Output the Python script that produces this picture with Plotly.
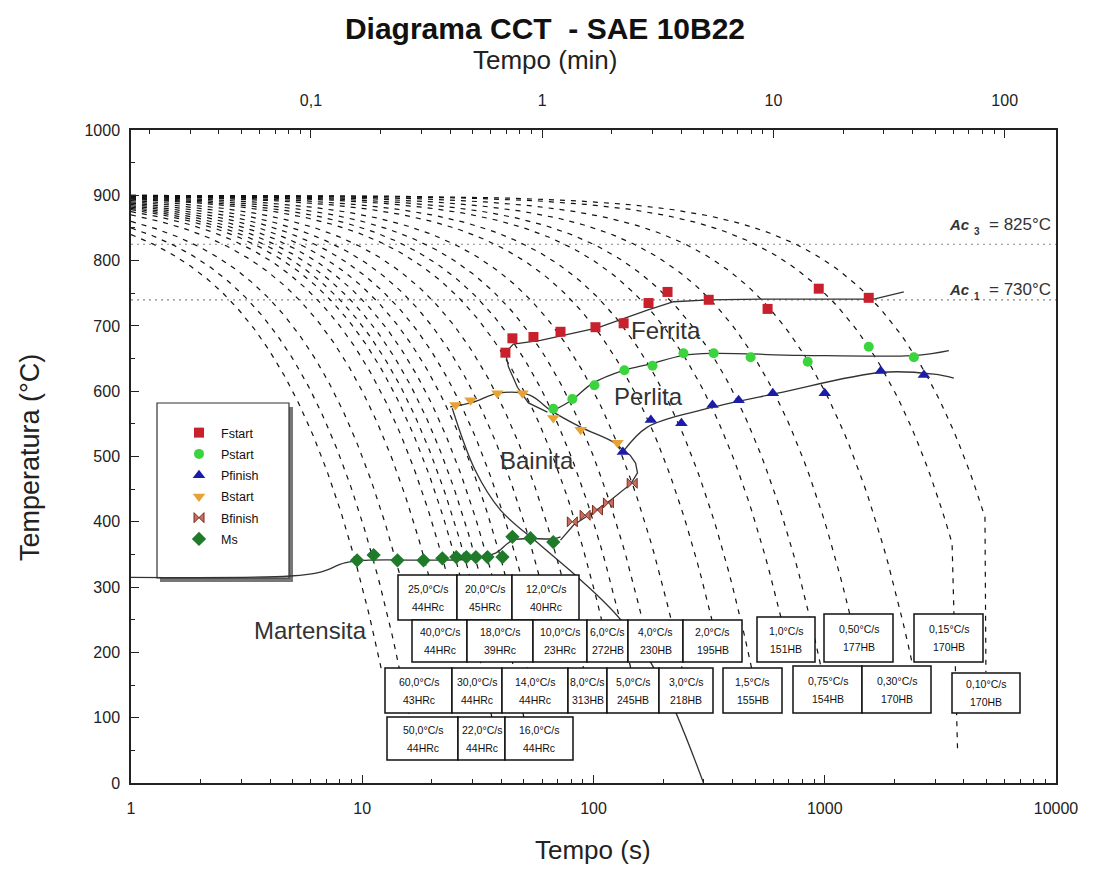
import numpy as np
import plotly.graph_objects as go

# ---------------- data ----------------
# cooling curves: constant cooling rates (°C/s) printed in the boxes, from 900 °C
cooling_rates = [60, 50, 40, 30, 25, 22, 20, 18, 16, 14, 12, 10, 8, 6, 5, 4, 3, 2, 1.5, 1.0, 0.75, 0.5, 0.3, 0.15, 0.1]
curve_end_temp = [176, 101, 250, 176, 318, 101, 318, 250, 101, 176, 318, 250, 176, 250, 176, 250, 176, 250, 176, 254, 179, 259, 179, 367, 407]
start_temp = 900
tail_rates = [0.15, 0.1]
tail_end_time = [3756, 4977]
tail_end_temp = [45, 170]

# critical temperatures (lines as drawn) and their labels
ac3_temp = 825
ac1_temp = 740
ac_labels = [("3", "= 825°C"), ("1", "= 730°C")]

# transformation lines (time s, temperature °C)
ferrite_line_t = [63.2, 52.3, 46.9, 42.9, 41.6, 45, 59, 104, 171, 222, 315, 528, 1630, 2198]
ferrite_line_T = [568, 582, 606, 637, 659, 672, 678, 697, 724, 737, 740, 741, 741, 752]
pearlite_start_line_t = [65, 81, 99, 135, 177, 245, 331, 787, 2500, 3441]
pearlite_start_line_T = [568, 587, 612, 632, 642, 655, 658, 655, 655, 662]
pearlite_finish_line_t = [134, 171, 291, 626, 1783, 2966, 3616]
pearlite_finish_line_T = [507, 545, 571, 597, 629, 626, 620]
bainite_start_line_t = [24, 30, 38.8, 53, 65, 88, 122, 134]
bainite_start_line_T = [576, 583, 597, 594, 571, 545, 522, 510]
bainite_finish_line_t = [72, 82, 100, 118.5, 145, 155, 152, 144, 134]
bainite_finish_line_T = [372, 395, 415, 433, 458, 475, 490, 502, 510]
ms_line_t = [1, 4.88, 6.6, 8.4, 10.3, 29.4, 37.7, 45, 67, 72]
ms_line_T = [315, 317, 323, 337, 341, 343, 352, 372, 374, 377]
mart_boundary_t = [24.5, 30.8, 39.6, 59, 88, 131, 195, 299]
mart_boundary_T = [574, 479, 418, 364, 311, 250, 158, 0]

# measured points
fstart_t = [41.6, 44.6, 55, 72, 102, 135, 173, 209, 315, 566, 942, 1550]
fstart_T = [659, 681, 683, 691, 698, 704, 735, 752, 740, 726, 757, 743]
pstart_t = [67, 81, 101, 136, 180, 245, 331, 478, 844, 1550, 2428]
pstart_T = [573, 588, 609, 632, 639, 658, 658, 652, 645, 668, 652]
pfinish_t = [134, 177, 240, 327, 424, 596, 1000, 1747, 2684]
pfinish_T = [507, 556, 551, 579, 586, 597, 597, 631, 625]
bstart_t = [25.3, 29.4, 38.4, 49.3, 67, 88, 127]
bstart_T = [579, 586, 597, 597, 559, 541, 521]
bfinish_t = [81, 92, 104, 116, 147]
bfinish_T = [400, 410, 418, 429, 459]
ms_t = [9.5, 11.2, 14.2, 18.4, 22.2, 25.5, 28.2, 31.0, 34.8, 40.4, 44.6, 53.4, 67]
ms_T = [341, 349, 341, 341, 344, 346, 346, 346, 346, 346, 377, 375, 369]

# label boxes
box_rate_text = ["25,0°C/s", "20,0°C/s", "12,0°C/s",
                 "40,0°C/s", "18,0°C/s", "10,0°C/s", "6,0°C/s", "4,0°C/s", "2,0°C/s", "1,0°C/s", "0,50°C/s", "0,15°C/s",
                 "60,0°C/s", "30,0°C/s", "14,0°C/s", "8,0°C/s", "5,0°C/s", "3,0°C/s", "1,5°C/s", "0,75°C/s", "0,30°C/s", "0,10°C/s",
                 "50,0°C/s", "22,0°C/s", "16,0°C/s"]
box_hardness = ["44HRc", "45HRc", "40HRc",
                "44HRc", "39HRc", "23HRc", "272HB", "230HB", "195HB", "151HB", "177HB", "170HB",
                "43HRc", "44HRc", "44HRc", "313HB", "245HB", "218HB", "155HB", "154HB", "170HB", "170HB",
                "44HRc", "44HRc", "44HRc"]

legend_names = ["Fstart", "Pstart", "Pfinish", "Bstart", "Bfinish", "Ms"]
region_names = ["Ferrita", "Perlita", "Bainita", "Martensita"]

x_ticks = [1, 10, 100, 1000, 10000]
x_tick_text = ["1", "10", "100", "1000", "10000"]
top_ticks = [0.1, 1, 10, 100]
top_tick_text = ["0,1", "1", "10", "100"]
y_ticks = list(range(0, 1001, 100))

# ---------------- layout geometry (screen pixels of the reference) ----------------
OFF = 8                       # page body margin of the html page
W, H = 1098 - OFF, 872 - OFF
PL, PR, PT, PB = 131, 1056, 130, 783
box_left = [398, 457, 512, 412, 467, 533, 587, 628, 683, 757, 824, 914, 385, 452, 502, 568, 607, 659, 723, 793, 862, 952, 387, 458, 505]
box_right = [457, 512, 579, 467, 533, 587, 628, 683, 742, 815, 893, 983, 452, 502, 568, 607, 659, 713, 782, 862, 931, 1020, 458, 505, 573]
box_top = [575] * 3 + [620] * 6 + [617, 614, 614] + [668] * 7 + [666, 666, 673] + [717] * 3
box_bottom = [620] * 3 + [662] * 9 + [713] * 10 + [760] * 3
region_pos = [(666, 330), (648, 396), (537, 460), (310, 630)]
ac_label_y = [224, 289]


def px(p):
    return (p - PL) / (PR - PL)


def py(p):
    return (PB - p) / (PB - PT)


fig = go.Figure()

# cooling curves: T = 900 - rate*t (straight lines in linear time, drawn on the log axis)
for rate, t_end_temp in zip(cooling_rates, curve_end_temp):
    t_stop = (start_temp - t_end_temp) / rate
    tt = np.geomspace(1.0, t_stop, 160)
    TT = start_temp - rate * tt
    xs, ys = list(tt), list(TT)
    if rate in tail_rates:
        i = tail_rates.index(rate)
        xs.append(tail_end_time[i])
        ys.append(tail_end_temp[i])
    fig.add_trace(go.Scatter(x=xs, y=ys, mode="lines", showlegend=False, hoverinfo="skip",
                             line=dict(color="#111111", width=1.2, dash="5px,6px")))

line_style = dict(color="#333333", width=1.3)
for lt, lT, shape in [(ferrite_line_t, ferrite_line_T, "linear"),
                      (pearlite_start_line_t, pearlite_start_line_T, "spline"),
                      (pearlite_finish_line_t, pearlite_finish_line_T, "spline"),
                      (bainite_start_line_t, bainite_start_line_T, "spline"),
                      (bainite_finish_line_t, bainite_finish_line_T, "linear"),
                      (ms_line_t, ms_line_T, "spline"),
                      (mart_boundary_t, mart_boundary_T, "spline")]:
    fig.add_trace(go.Scatter(x=lt, y=lT, mode="lines", line_shape=shape, showlegend=False,
                             hoverinfo="skip", line=line_style))

marker_styles = [
    dict(symbol="square", color="#c8202c", size=10),
    dict(symbol="circle", color="#3cd43c", size=10),
    dict(symbol="triangle-up", color="#1c1ca8", size=11),
    dict(symbol="triangle-down", color="#e8a234", size=11),
    dict(symbol="bowtie", color="#c87060", size=10, line=dict(color="#7a2a20", width=1)),
    dict(symbol="diamond", color="#1f7a2a", size=11),
]
marker_data = [(fstart_t, fstart_T), (pstart_t, pstart_T), (pfinish_t, pfinish_T),
               (bstart_t, bstart_T), (bfinish_t, bfinish_T), (ms_t, ms_T)]
for name, (mt, mT), mk in zip(legend_names, marker_data, marker_styles):
    fig.add_trace(go.Scatter(x=mt, y=mT, mode="markers", name=name,
                             legendgroup=name, marker=mk, hoverinfo="skip"))

# invisible trace to anchor the top (minutes) axis
fig.add_trace(go.Scatter(x=[1 / 60, 10000 / 60], y=[0, 0], xaxis="x2", mode="markers",
                         marker=dict(opacity=0), showlegend=False, hoverinfo="skip"))

shapes = []
for temp in (ac3_temp, ac1_temp):
    shapes.append(dict(type="line", xref="paper", x0=0, x1=1, yref="y", y0=temp, y1=temp,
                       line=dict(color="#888888", width=1.2, dash="2px,4px"), layer="below"))
# legend frame with shadow
shapes.append(dict(type="rect", xref="paper", yref="paper", x0=px(160), x1=px(293), y0=py(407), y1=py(582),
                   fillcolor="#777777", line=dict(width=0), layer="below"))
shapes.append(dict(type="rect", xref="paper", yref="paper", x0=px(157), x1=px(289), y0=py(403), y1=py(578),
                   fillcolor="white", line=dict(color="#333333", width=1.2), layer="below"))
# label boxes
for l, r, t, b in zip(box_left, box_right, box_top, box_bottom):
    shapes.append(dict(type="rect", xref="paper", yref="paper", x0=px(l), x1=px(r), y0=py(b), y1=py(t),
                       fillcolor="white", line=dict(color="#111111", width=1.5), layer="above"))

annotations = []
box_font = dict(size=10.5, family="Arial", color="#111")
for txt, hard, l, r, t, b in zip(box_rate_text, box_hardness, box_left, box_right, box_top, box_bottom):
    cx = (l + r) / 2
    cy = (t + b) / 2
    annotations.append(dict(text=txt, x=px(cx), y=py(cy - 9), xref="paper", yref="paper", showarrow=False,
                            xanchor="center", yanchor="middle", font=box_font))
    annotations.append(dict(text=hard, x=px(cx), y=py(cy + 9), xref="paper", yref="paper", showarrow=False,
                            xanchor="center", yanchor="middle", font=box_font))

for txt, (x0, y0) in zip(region_names, region_pos):
    annotations.append(dict(text=txt, x=px(x0), y=py(y0), xref="paper", yref="paper", showarrow=False,
                            xanchor="center", yanchor="middle", font=dict(size=24, family="Arial", color="#333")))

for (sub, rest), ly in zip(ac_labels, ac_label_y):
    annotations.append(dict(text="Ac", x=px(972), y=py(ly), xref="paper", yref="paper", showarrow=False,
                            xanchor="right", yanchor="middle",
                            font=dict(size=15, family="Arial", color="#333", style="italic", weight="bold")))
    annotations.append(dict(text=sub, x=px(972), y=py(ly + 7), xref="paper", yref="paper", showarrow=False,
                            xanchor="left", yanchor="middle",
                            font=dict(size=10, family="Arial", color="#333", weight="bold")))
    annotations.append(dict(text=rest, x=px(987), y=py(ly), xref="paper", yref="paper", showarrow=False,
                            xanchor="left", yanchor="middle",
                            font=dict(size=17, family="Arial", color="#333")))

title_font = dict(size=26, family="Arial", color="#222")
annotations.append(dict(text="Tempo (s)", x=px(593), y=py(850), xref="paper", yref="paper", showarrow=False,
                        xanchor="center", yanchor="middle", font=title_font))
annotations.append(dict(text="Tempo (min)", x=px(545), y=py(60), xref="paper", yref="paper", showarrow=False,
                        xanchor="center", yanchor="middle", font=title_font))
annotations.append(dict(text="Temperatura (°C)", x=px(30), y=py(458), xref="paper", yref="paper",
                        showarrow=False, textangle=-90, xanchor="center", yanchor="middle",
                        font=dict(size=27, family="Arial", color="#222")))

axis_font = dict(size=16, family="Arial", color="#222")
fig.update_layout(
    width=W, height=H,
    margin=dict(l=PL - OFF, r=W - (PR - OFF), t=PT - OFF, b=H - (PB - OFF)),
    paper_bgcolor="white", plot_bgcolor="white",
    title=dict(text="Diagrama CCT  - SAE 10B22", x=(545 - OFF) / W, xanchor="center", xref="container",
               y=1 - (28 - OFF) / H, yanchor="middle",
               font=dict(size=30, family="Arial", color="#111", weight="bold")),
    xaxis=dict(type="log", range=[0, 4], tickvals=x_ticks, ticktext=x_tick_text, ticks="inside", ticklen=8,
               tickwidth=1, tickcolor="#222", showline=True, linecolor="#222", linewidth=1.5, showgrid=False,
               zeroline=False, tickfont=axis_font, ticklabelstandoff=10,
               minor=dict(ticks="inside", ticklen=4, tickcolor="#222",
                          tickvals=[m * 10 ** e for e in range(4) for m in range(2, 10)])),
    xaxis2=dict(type="log", overlaying="x", side="top", anchor="y",
                range=[np.log10(1 / 60), np.log10(10000 / 60)], tickvals=top_ticks, ticktext=top_tick_text,
                ticks="inside", ticklen=8, tickwidth=1, tickcolor="#222", showline=True, linecolor="#222",
                linewidth=1.5, showgrid=False, zeroline=False, tickfont=axis_font, ticklabelstandoff=16,
                minor=dict(ticks="inside", ticklen=4, tickcolor="#222",
                           tickvals=[m * 10 ** e for e in range(-2, 2) for m in range(2, 10)])),
    yaxis=dict(range=[0, 1000], tickvals=y_ticks, ticks="inside", ticklen=8, tickwidth=1, tickcolor="#222",
               showline=True, mirror=True, linecolor="#222", linewidth=1.5, showgrid=False, zeroline=False,
               tickfont=axis_font, ticklabelstandoff=6,
               minor=dict(ticks="inside", ticklen=4, tickcolor="#222", dtick=50)),
    legend=dict(x=px(177), y=py(418), xanchor="left", yanchor="top", bgcolor="rgba(0,0,0,0)", borderwidth=0,
                font=dict(size=12.5, family="Arial", color="#111"), tracegroupgap=2, itemwidth=34),
    shapes=shapes,
    annotations=annotations,
)

fig.write_html("out.html")
